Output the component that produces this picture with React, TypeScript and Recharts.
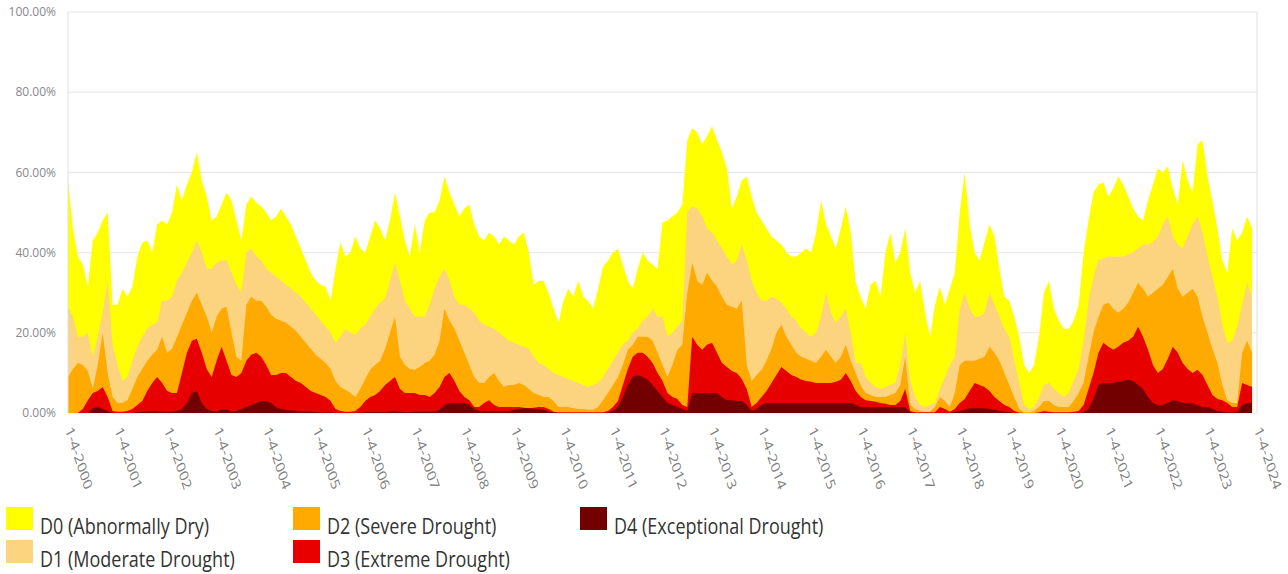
import React from 'react';
import { AreaChart, Area, XAxis, YAxis, CartesianGrid, ReferenceLine } from 'recharts';

// tick years on the x axis (labels read "1-4-YYYY")
const years = [
  2000, 2001, 2002, 2003, 2004, 2005, 2006, 2007, 2008, 2009, 2010, 2011, 2012,
  2013, 2014, 2015, 2016, 2017, 2018, 2019, 2020, 2021, 2022, 2023, 2024,
];
const yTicks = [0, 20, 40, 60, 80, 100];

// samples are taken every tenth of a year, starting 1-4-2000
const SAMPLES_PER_YEAR = 10;

// percent of area in each category or worse, one row per year
const d0 = [
  58, 46, 39, 37, 31.5, 43, 45, 48, 50, 27,
  27, 31, 29, 31.5, 39, 42.5, 43, 40, 47, 48,
  47, 50, 57, 53, 57, 60, 65, 58, 54, 48,
  49, 52, 55, 53, 48, 43, 52, 54, 52.5, 51.5,
  50, 48, 49, 51, 49, 47, 44, 41, 38, 35,
  33, 32, 31.5, 28, 36, 42.5, 39, 40, 44, 41,
  40, 44, 48, 46, 43, 48, 55, 49, 43, 39,
  47, 40, 48, 50, 50, 53, 59, 55, 52, 49,
  51, 52, 47, 44, 43, 45, 44, 42, 44, 43,
  42, 44, 45, 40, 32, 33, 33, 30, 26, 22.5,
  28, 31, 29, 33, 29, 28, 26, 31, 36.5, 38,
  40, 41, 37, 33, 31, 36, 40, 38, 37, 36,
  47.5, 48, 49, 50, 52, 68, 71, 70, 67, 69,
  71.5, 68, 65, 61, 51, 54, 58, 59, 54, 50,
  48, 46, 44, 43, 42, 40, 39, 39, 40, 41,
  40, 45, 53, 47, 44, 41, 46, 51.5, 45, 32.5,
  29, 26, 32, 33, 29, 40, 45, 37.5, 40, 46,
  35, 30, 33, 25, 19, 27, 31.5, 27, 31, 35,
  50, 60, 47, 40, 38, 42.5, 47, 44, 36, 29,
  28, 24, 19, 12, 10, 12, 19, 30, 33, 26,
  23, 21, 21, 23, 27, 40, 48, 55, 57, 57.5,
  54, 56, 59, 57, 54, 51, 49, 48, 53, 57,
  61, 60, 61.5, 56, 52, 63, 58, 55, 67, 68,
  59, 53, 46, 38, 35, 46, 43, 45, 49, 46,
];

const d1 = [
  26.5, 24, 19, 19, 20, 14, 19, 25, 33, 17,
  12, 8, 9, 13, 16.5, 19, 21, 22, 22.5, 28,
  28, 29, 33, 35, 37.5, 40, 43, 40, 36, 36,
  37.5, 38, 38, 35, 32, 30, 40, 41, 39, 38,
  36, 35, 34, 33, 32, 31, 30, 29, 27.5, 26,
  24.5, 23, 21.5, 20, 17.5, 19, 21, 20, 19.5, 21,
  22, 24, 26, 27.5, 28.5, 33, 37.5, 33, 28, 26,
  24, 24, 24, 27, 31, 34, 36, 33, 29, 27,
  27, 26, 25, 23, 22, 21.5, 21, 20, 19, 18,
  17.5, 17, 16.5, 16, 14, 12.5, 12, 11, 10, 9.5,
  9, 8.5, 8, 7.5, 7, 6.5, 7, 7.5, 9, 11,
  13, 15, 17, 18, 20, 21, 23, 24, 26, 24,
  24, 19, 20, 21.5, 23, 50, 51.5, 51, 49, 46,
  45, 43, 41, 39, 37, 38, 42, 38, 33, 30,
  28, 28, 29, 28.5, 27.5, 26, 24, 23, 21, 20,
  19, 20, 24, 30, 25, 22.5, 24, 26, 20, 12.5,
  12.5, 9, 7.5, 6.5, 6, 6.5, 7, 7.5, 12, 20,
  8, 4, 2, 1.5, 2, 2.5, 6, 9, 12, 14,
  26, 30, 26, 24, 24, 25, 30, 27, 24, 21,
  19, 13, 7.5, 2, 1, 1.5, 4, 7, 7.5, 6,
  5, 4, 5, 8, 11, 18, 28, 34, 38, 38.5,
  39, 39, 39, 39, 39.5, 40, 41, 42, 42, 42.5,
  44, 47, 49, 44, 42, 41, 44, 47, 49, 45,
  39, 34, 29, 22, 17.5, 18, 21.5, 27, 32.5, 29,
];

const d2 = [
  9, 11, 12.5, 12, 10.5, 6, 12, 20, 10, 4,
  2.5, 2.5, 3.2, 6, 9, 11, 13, 14.5, 15.8, 19,
  15, 16, 19, 22, 25, 28, 30, 27, 24, 20,
  24, 26, 26.5, 20, 14, 13, 27, 29, 28, 28,
  26.5, 24.5, 23.5, 23, 22.5, 21.5, 20.5, 19, 17.5, 16,
  14.5, 13.5, 12.5, 11, 8, 6.5, 5.8, 5, 4, 6,
  8.5, 10.8, 12, 13, 16, 20, 24, 14, 12, 11,
  10.8, 11.5, 12.5, 13, 14.5, 18, 26, 23, 21, 18,
  15, 12, 9, 7.5, 7.5, 9, 10, 8, 6.5, 7,
  7, 7.5, 7, 6, 5, 4.5, 4, 4, 3, 1.5,
  1.5, 1.5, 1.2, 1, 1, 0.8, 0.8, 1.5, 3.2, 5,
  7, 9, 12, 15.8, 17, 19, 19, 19, 18, 15,
  12, 9, 12, 15.8, 17, 30, 37.5, 33, 32, 35,
  33, 31.5, 29, 27, 26.5, 26, 28, 12, 8, 9.5,
  10.8, 13, 16, 20, 22, 19, 17, 15, 14, 13.5,
  13, 12.5, 14, 15.8, 14, 12.5, 14, 17, 13, 10,
  7, 5, 4.5, 4, 4, 4, 4.5, 5, 7, 14,
  2, 1, 0.5, 0.3, 0.3, 1.5, 4, 3, 1.5, 5,
  12, 13, 13, 13, 13.5, 14, 16.5, 15, 13, 10,
  7, 4, 1, 0.2, 0.2, 0.5, 1.5, 3, 3, 2,
  1.5, 1.5, 1.5, 3, 5, 7.5, 14, 20, 24, 27,
  27.5, 26, 25, 26, 27.5, 30, 32.5, 31, 29, 30,
  31, 32, 34, 36, 31, 29, 30, 31, 29, 24,
  20, 16, 12.5, 7, 3.2, 2.5, 2.5, 15, 18, 15,
];

const d3 = [
  0, 0, 0, 1, 3.2, 5, 5.5, 6.5, 4, 0.5,
  0.3, 0.3, 0.5, 1, 2, 3, 5.5, 7.5, 9, 7.5,
  5.5, 5, 5, 10, 15, 18, 18.5, 15, 11, 9,
  13, 16.5, 13, 9.5, 9, 10, 13, 14.5, 15, 14,
  12, 9.5, 9.5, 10, 10, 9, 8, 7.5, 6.5, 5.5,
  5, 4.5, 4, 3, 1, 0.5, 0.3, 0.3, 0.5, 1.5,
  3, 4, 4.5, 5.5, 7, 8, 9, 6, 5, 5,
  5, 4.5, 4.5, 4, 5, 6.5, 9, 10, 8, 5.5,
  4, 3.2, 1.5, 1.5, 2.5, 3.2, 2, 1.5, 1.5, 1.5,
  1.5, 1.5, 1.3, 1.2, 1.3, 1.5, 1.5, 1, 0.3, 0.2,
  0.2, 0.2, 0.2, 0.2, 0.2, 0.2, 0.2, 0.2, 0.2, 0.5,
  1.5, 3, 7, 11, 14, 15, 15, 14, 12.5, 10,
  8, 5, 4, 3.5, 2, 1.5, 19, 17, 15.8, 17,
  17.5, 15, 12.5, 11.5, 10.5, 10, 8.5, 6, 1.5, 2.5,
  4, 5.5, 7.5, 9.5, 11.5, 10.5, 9.5, 9, 8.3, 8,
  7.8, 7.5, 7.5, 7.5, 7.5, 7.8, 8.3, 10, 8, 5.5,
  4, 3.2, 3, 2.8, 2.5, 2.3, 2, 2, 3, 6,
  0.5, 0.2, 0.2, 0.2, 0.2, 0.2, 1.5, 1, 0.3, 1,
  2.5, 3.5, 5.5, 7.5, 7, 6.5, 5.5, 4, 3, 2,
  1.5, 0.5, 0.1, 0, 0, 0, 0.2, 0.5, 0.3, 0.2,
  0.2, 0.2, 0.2, 0.3, 0.5, 2, 6, 10, 15, 17.5,
  16.5, 15.8, 16.5, 17.5, 18, 19, 21.5, 19, 15.8, 12,
  10, 11, 13.5, 16.5, 15, 12.5, 11, 10, 10.8, 9.5,
  7, 4.5, 3.5, 3.2, 2.5, 1.5, 1.5, 7.5, 7, 6.5,
];

const d4 = [
  0, 0, 0, 0, 0, 1.2, 1.5, 1, 0.5, 0,
  0, 0, 0, 0, 0.2, 0.3, 0.5, 0.5, 0.5, 0.3,
  0.3, 0.3, 0.5, 1, 2.5, 5, 5.5, 2.5, 1, 0.5,
  0.5, 0.8, 0.8, 0.5, 0.5, 1, 1.5, 2, 2.5, 3,
  3, 2.5, 1.5, 1, 0.8, 0.6, 0.5, 0.4, 0.3, 0.3,
  0.2, 0.1, 0.1, 0.1, 0, 0, 0, 0, 0, 0.1,
  0.2, 0.2, 0.2, 0.2, 0.2, 0.3, 0.5, 0.3, 0.2, 0.2,
  0.3, 0.3, 0.3, 0.3, 0.4, 0.8, 2, 2.5, 2.5, 2.5,
  2.5, 2, 1, 0.5, 0.5, 0.5, 0.5, 0.5, 0.5, 0.5,
  0.8, 1, 1.2, 1.2, 1, 1, 0.8, 0.3, 0.1, 0,
  0, 0, 0, 0, 0, 0, 0, 0, 0, 0.1,
  0.5, 1.5, 4, 7, 9, 9.5, 9, 8.3, 7, 5.5,
  4, 2.5, 2, 1.5, 1, 0.5, 5, 5, 5, 5,
  5, 5, 4, 3.2, 3.2, 3, 3, 2, 0.5, 1,
  2, 2.5, 2.5, 2.5, 2.5, 2.5, 2.5, 2.5, 2.5, 2.5,
  2.5, 2.5, 2.5, 2.5, 2.5, 2.5, 2.5, 2.5, 2.5, 2,
  1.5, 1.5, 1.5, 1.5, 1.5, 1.5, 1.5, 1.5, 1.5, 1.5,
  0.2, 0, 0, 0, 0, 0, 0, 0, 0, 0.3,
  0.5, 0.8, 1.2, 1.2, 1.2, 1.2, 1, 0.8, 0.5, 0.3,
  0.2, 0, 0, 0, 0, 0, 0, 0, 0, 0,
  0, 0, 0, 0, 0, 0.2, 1, 3.5, 7, 7.5,
  7.5, 7.5, 7.8, 8, 8.3, 8, 7, 6, 4, 2.5,
  2, 2, 2.5, 3.2, 3, 2.5, 2.5, 2.5, 2, 1.5,
  1.5, 1, 0.5, 0.3, 0.2, 0.1, 0.3, 2, 2.5, 2.5,
];

const SERIES = [
  { key: 'd0', name: 'D0 (Abnormally Dry)', color: '#FFFF00' },
  { key: 'd1', name: 'D1 (Moderate Drought)', color: '#FCD37F' },
  { key: 'd2', name: 'D2 (Severe Drought)', color: '#FFAA00' },
  { key: 'd3', name: 'D3 (Extreme Drought)', color: '#E60000' },
  { key: 'd4', name: 'D4 (Exceptional Drought)', color: '#730000' },
];

// legend slots (swatch left/top, page pixels): 3 columns x 2 rows
const LEGEND_POS = [
  { left: 6, top: 507 },
  { left: 6, top: 540 },
  { left: 293, top: 507 },
  { left: 293, top: 540 },
  { left: 580, top: 507 },
];

const data = d0.map((v, i) => ({
  t: years[0] + i / SAMPLES_PER_YEAR,
  d0: v,
  d1: d1[i],
  d2: d2[i],
  d3: d3[i],
  d4: d4[i],
}));

const FONT = '"Open Sans", sans-serif';

// the source picture is a little stretched vertically, so the labels are too
function DateTick({ x, y, payload }: { x: number; y: number; payload: { value: number } }) {
  return (
    <g transform={`translate(${x - 3}, ${y + 9}) scale(1, 1.3) rotate(67)`}>
      <text x={0} y={0} textAnchor="start" fontSize={12.5} fontFamily={FONT} fill="#7f7f7f">
        {`1-4-${payload.value}`}
      </text>
    </g>
  );
}

export default function App() {
  return (
    <div style={{ position: 'absolute', left: 0, top: 0, width: 1288, height: 574, fontFamily: FONT }}>
      <AreaChart
        width={1288}
        height={498}
        data={data}
        margin={{ top: 12, right: 31, left: 8, bottom: 5 }}
      >
        <CartesianGrid vertical={false} stroke="#e6e6e6" />
        <XAxis
          dataKey="t"
          type="number"
          domain={[2000, 2024]}
          ticks={years}
          interval={0}
          axisLine={false}
          tickLine={false}
          height={80}
          tick={(props: any) => <DateTick {...props} />}
        />
        <YAxis
          domain={[0, 100]}
          ticks={yTicks}
          width={60}
          tickSize={0}
          tickMargin={12}
          axisLine={{ stroke: '#e0e0e0' }}
          tickLine={false}
          tickFormatter={(v: number) => `${v.toFixed(2)}%`}
          tick={{ fontSize: 12, fill: '#888', fontFamily: FONT }}
        />
        <ReferenceLine x={2024} stroke="#e0e0e0" />
        {SERIES.map((s) => (
          <Area
            key={s.key}
            type="linear"
            dataKey={s.key}
            name={s.name}
            stroke="none"
            fill={s.color}
            fillOpacity={1}
            dot={false}
            activeDot={false}
            isAnimationActive={false}
          />
        ))}
      </AreaChart>
      {SERIES.map((s, i) => (
        <React.Fragment key={s.key}>
          <div
            style={{
              position: 'absolute',
              left: LEGEND_POS[i].left,
              top: LEGEND_POS[i].top,
              width: 27,
              height: 23,
              background: s.color,
            }}
          />
          <span
            style={{
              position: 'absolute',
              left: LEGEND_POS[i].left + 34,
              top: LEGEND_POS[i].top + 8,
              fontSize: 18,
              lineHeight: '18px',
              color: '#333',
              whiteSpace: 'nowrap',
              transform: 'scaleY(1.2)',
              transformOrigin: 'top left',
            }}
          >
            {s.name}
          </span>
        </React.Fragment>
      ))}
    </div>
  );
}
